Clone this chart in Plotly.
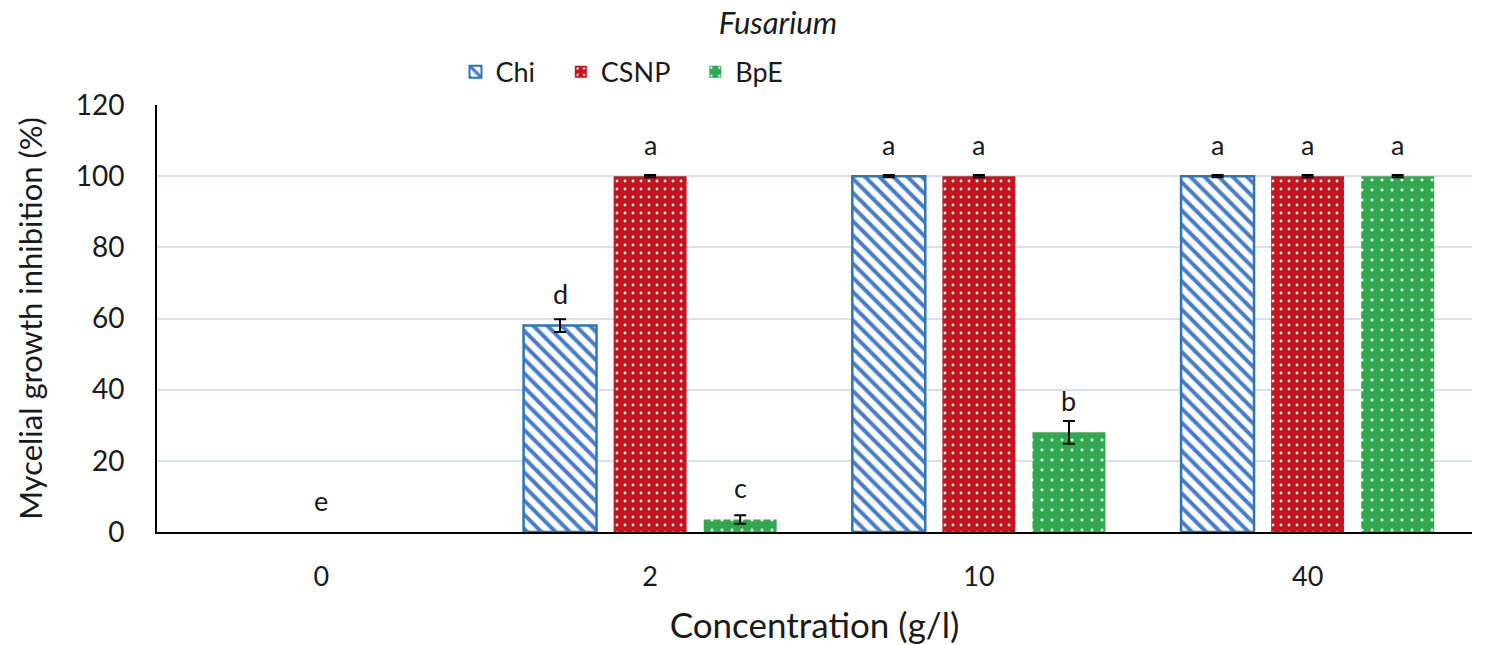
import plotly.graph_objects as go

# Concentrations (g/l) and mean inhibition (%)
concentrations = ['0', '2', '10', '40']
chi = [0, 58, 100, 100]
csnp = [0, 100, 100, 100]
bpe = [0, 3.5, 28, 100]

# no error bar drawn for the untreated control
chi_err = [None, 1.8, 0.3, 0.3]
csnp_err = [None, 0.3, 0.3, 0.3]
bpe_err = [None, 1.2, 3.2, 0.3]

chi_letters = ['', 'd', 'a', 'a']
csnp_letters = ['', 'a', 'a', 'a']
bpe_letters = ['', 'c', 'b', 'a']
control_letter = 'e'

FONT = 'Lato'
TXT = '#1a1a1a'
BLUE = '#2E75B6'
RED = '#C5161D'
GREEN = '#31A84F'


def marker(fill, edge, edge_w, pattern):
    return dict(color=fill, line=dict(color=edge, width=edge_w), pattern=pattern)


series = [
    dict(name='Chi', y=chi, err=chi_err, letters=chi_letters, fill='white',
         edge=BLUE, edge_w=2.5,
         pattern=dict(shape='\\', fgcolor='#4A7EC4', bgcolor='white',
                      fgopacity=1, size=10, solidity=0.4, fillmode='overlay')),
    dict(name='CSNP', y=csnp, err=csnp_err, letters=csnp_letters, fill=RED,
         edge=RED, edge_w=0,
         pattern=dict(shape='.', fgcolor='white', bgcolor=RED,
                      fgopacity=0.9, size=8, solidity=0.1, fillmode='overlay')),
    dict(name='BpE', y=bpe, err=bpe_err, letters=bpe_letters, fill=GREEN,
         edge=GREEN, edge_w=0,
         pattern=dict(shape='.', fgcolor='white', bgcolor=GREEN,
                      fgopacity=0.9, size=10, solidity=0.07, fillmode='overlay')),
]

fig = go.Figure()
for s in series:
    # plotly.js reads null as 0 and would still draw a cap; "NaN" skips the point
    err = ['NaN' if e is None else e for e in s['err']]
    # no outline on zero-height bars (it would sit on the axis line)
    edge_w = [0 if v == 0 else s['edge_w'] for v in s['y']]
    fig.add_trace(go.Bar(
        name=s['name'], x=concentrations, y=s['y'],
        marker=marker(s['fill'], s['edge'], edge_w, s['pattern']),
        error_y=dict(type='data', array=err, color='black',
                     thickness=2, width=6),
        offsetgroup=s['name'], legendgroup=s['name'], showlegend=False,
    ))
    # legend entry with the full outline style, sharing the same slot
    fig.add_trace(go.Bar(
        name=s['name'] + '\u00a0\u00a0\u00a0', x=[concentrations[0]], y=[None],
        marker=marker(s['fill'], s['edge'], min(s['edge_w'], 2), s['pattern']),
        offsetgroup=s['name'], legendgroup=s['name'], hoverinfo='skip',
    ))

# significance letters above each bar (offset per bar within the group)
n = len(series)
for i, s in enumerate(series):
    for j, (val, lab) in enumerate(zip(s['y'], s['letters'])):
        if not lab:
            continue
        fig.add_annotation(
            x=j + (i - (n - 1) / 2) * 0.274, y=val, xref='x', yref='y',
            text=lab, showarrow=False, yanchor='middle', yshift=32,
            font=dict(family=FONT, size=27, color=TXT))

fig.add_annotation(x=0, y=0, xref='x', yref='y', text=control_letter,
                   showarrow=False, yanchor='middle', yshift=32,
                   font=dict(family=FONT, size=27, color=TXT))

fig.update_layout(
    width=1485, height=645,
    paper_bgcolor='white', plot_bgcolor='white',
    font=dict(family=FONT, size=26, color=TXT),
    margin=dict(l=149, r=21, t=97, b=121),
    barmode='group', bargap=0.178, bargroupgap=0.19,
    title=dict(text='<i>Fusarium</i>', x=0.5185, xanchor='center',
               y=0.977, yanchor='middle',
               font=dict(family=FONT, size=31, color=TXT)),
    legend=dict(orientation='h', x=0.227, xanchor='left', y=1.077, yanchor='middle',
                font=dict(family=FONT, size=27, color=TXT), itemwidth=30,
                traceorder='normal'),
    xaxis=dict(type='category', showline=True, linecolor='black', linewidth=2,
               ticks='', tickfont=dict(size=27), automargin=False,
               ticklabelstandoff=20,
               title=dict(text='Concentration (g/l)', font=dict(size=35),
                          standoff=22)),
    yaxis=dict(range=[0, 120], dtick=20, showline=True, linecolor='black',
               linewidth=2, gridcolor='#D6E0F0', gridwidth=1.5,
               zeroline=False, ticks='', tickfont=dict(size=28), automargin=False,
               ticklabelstandoff=25,
               title=dict(text='Mycelial growth inhibition (%)',
                          font=dict(size=31), standoff=24)),
)

fig.write_html('out.html')
